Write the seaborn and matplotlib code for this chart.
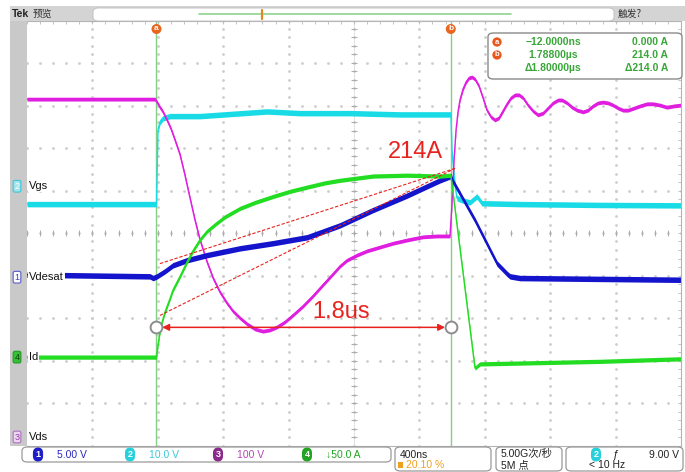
import numpy as np
import pandas as pd
import matplotlib
matplotlib.use("Agg")
import matplotlib.pyplot as plt
from matplotlib.patches import FancyBboxPatch, Rectangle
import seaborn as sns

sns.set_style("white")
plt.rcParams["font.family"] = ["Liberation Sans", "Noto Sans CJK SC", "DejaVu Sans"]
CJK = ["Noto Sans CJK SC", "DejaVu Sans"]
NARROW = ["Liberation Sans Narrow", "Liberation Sans", "Noto Sans CJK SC", "DejaVu Sans"]

# ---------------- acquisition settings ----------------
US_PER_DIV = 0.4            # 400 ns/div
H_DIVS, V_DIVS = 10, 10
TRIG_POS = 0.2010           # 20.10 %
T_LEFT = -TRIG_POS * H_DIVS * US_PER_DIV
T_RIGHT = T_LEFT + H_DIVS * US_PER_DIV

# channel scale (units/div) and ground-marker position (div)
ch_scale = {"Vdesat": 5.0, "Vgs": 10.0, "Vds": 100.0, "Id": 50.0}
ch_pos = {"Vdesat": -1.04, "Vgs": 1.10, "Vds": -4.80, "Id": -2.92}
ch_color = {"Vgs": "#19dbe6", "Vds": "#e01ee0", "Vdesat": "#1414cc", "Id": "#22dd22"}
ch_band = {"Vgs": 0.065, "Vds": 0.045, "Vdesat": 0.065, "Id": 0.05}

# cursors
cursor_a_us = -0.012
cursor_b_us = 1.788
cursor_a_amp = 0.0
cursor_b_amp = 214.0

# ---------------- waveforms (time in µs) ----------------
vgs_t = [-0.804, -0.012, -0.003, 0.009, 0.028, 0.071, 0.254, 0.664, 0.866, 1.172,
         1.477, 1.789, 1.795, 1.814, 1.826, 1.857, 1.905, 1.948, 1.979, 2.211, 2.700, 3.196]
vgs_v = [-4.2, -4.2, 13.2, 15.1, 16.0, 16.5, 16.5, 17.6, 17.2, 17.2,
         16.9, 16.9, 8.5, 0.2, -2.8, -3.3, -3.8, -2.4, -4.0, -4.2, -4.4, -4.5]

vdesat_t = [-0.804, -0.052, -0.033, -0.009, 0.040, 0.089, 0.175, 0.297, 0.499, 0.701,
            0.909, 1.110, 1.312, 1.520, 1.722, 1.789, 1.801, 1.936, 2.071, 2.107,
            2.132, 2.150, 2.211, 3.196]
vdesat_v = [0.3, 0.1, -0.1, 0.1, 0.7, 1.4, 2.0, 2.6, 3.4, 4.0,
            4.7, 6.1, 7.9, 9.6, 11.4, 11.9, 11.3, 6.7, 1.6, 0.9,
            0.4, 0.1, -0.1, -0.3]

id_t = [-0.804, -0.012, -0.003, 0.009, 0.022, 0.040, 0.071, 0.089, 0.132, 0.175,
        0.211, 0.254, 0.297, 0.346, 0.407, 0.499, 0.591, 0.701, 0.804, 0.909,
        1.019, 1.110, 1.312, 1.520, 1.722, 1.788, 1.936, 1.967, 2.211, 2.700,
        3.196]
id_v = [0, 0, 14, 29, 41, 53, 69, 79, 95, 112,
        125, 138, 148, 156, 165, 175, 182, 189, 195, 200,
        205, 208, 213, 214, 213, 214, -13, -8, -7, -5,
        -2]

vds_t = [-0.804, -0.021, -0.009, 0.009, 0.028, 0.052, 0.077, 0.101, 0.132, 0.162,
         0.193, 0.223, 0.254, 0.297, 0.334, 0.376, 0.419, 0.456, 0.499, 0.542,
         0.591, 0.639, 0.682, 0.725, 0.774, 0.823, 0.884, 0.945, 1.006, 1.068,
         1.110, 1.153, 1.214, 1.276, 1.355, 1.435, 1.526, 1.618, 1.704, 1.783,
         1.795, 1.808, 1.820, 1.832, 1.844, 1.863, 1.881, 1.899, 1.918, 1.936,
         1.960, 1.985, 2.009, 2.034, 2.058, 2.083, 2.107, 2.132, 2.156, 2.181,
         2.205, 2.230, 2.260, 2.291, 2.321, 2.352, 2.383, 2.413, 2.444, 2.468,
         2.499, 2.529, 2.560, 2.597, 2.627, 2.658, 2.688, 2.719, 2.750, 2.780,
         2.811, 2.841, 2.872, 2.909, 2.945, 2.988, 3.025, 3.067, 3.110, 3.153,
         3.196]
vds_v = [795, 795, 788, 776, 765, 746, 725, 699, 664, 616,
         562, 511, 464, 412, 374, 341, 315, 296, 280, 266,
         254, 249, 252, 259, 271, 287, 308, 332, 358, 384,
         402, 416, 428, 438, 447, 456, 464, 471, 473, 473,
         546, 652, 722, 765, 793, 819, 835, 845, 847, 842,
         826, 798, 769, 753, 746, 751, 767, 784, 798, 805,
         805, 798, 781, 767, 758, 762, 774, 786, 793, 793,
         786, 776, 769, 765, 769, 779, 786, 788, 786, 781,
         774, 769, 769, 774, 779, 784, 784, 781, 776, 779,
         781]

frames = []
for name, t, v in [("Vgs", vgs_t, vgs_v), ("Vds", vds_t, vds_v),
                   ("Vdesat", vdesat_t, vdesat_v), ("Id", id_t, id_v)]:
    d = pd.DataFrame({"t": t, "value": v})
    d["channel"] = name
    d["div"] = ch_pos[name] + d["value"] / ch_scale[name]
    frames.append(d)
waves = pd.concat(frames, ignore_index=True)

# ---------------- figure / graticule ----------------
W, H = 685, 472
fig = plt.figure(figsize=(W / 100, H / 100), dpi=100)
fig.patch.set_facecolor("white")

def fx(x):
    return x / W

def fy(y):
    return 1 - y / H

GX0, GX1, GY0, GY1 = 27, 681, 20.5, 445.5
PX_PER_VDIV = (GY1 - GY0) / V_DIVS
Y_CENTER = (GY0 + GY1) / 2
ax = fig.add_axes([fx(GX0), fy(GY1), (GX1 - GX0) / W, (GY1 - GY0) / H])
ax.set_xlim(T_LEFT, T_RIGHT)
ax.set_ylim(-V_DIVS / 2, V_DIVS / 2)
ax.set_facecolor("white")
for s in ax.spines.values():
    s.set_color("#b4b4b4")
    s.set_linewidth(0.8)
ax.spines["left"].set_visible(False)

major_x = T_LEFT + US_PER_DIV * np.arange(0, H_DIVS + 1)
major_y = np.arange(-V_DIVS / 2, V_DIVS / 2 + 1)
minor_x = T_LEFT + US_PER_DIV / 5 * np.arange(0, H_DIVS * 5 + 1)
minor_y = -V_DIVS / 2 + 0.2 * np.arange(0, V_DIVS * 5 + 1)

ax.set_xticks(minor_x)
ax.set_yticks(minor_y)
ax.tick_params(direction="in", length=2.5, width=0.6, color="#b8b8b8",
               top=True, right=True, labelbottom=False, labelleft=False)

dot = dict(ls="none", marker="o", ms=1.0, color="#cdcdcd", zorder=0.5)
for xv in major_x[1:-1]:
    ax.plot(np.full_like(minor_y, xv), minor_y, **dot)
for yv in major_y[1:-1]:
    ax.plot(minor_x, np.full_like(minor_x, yv), **dot)
t_center = T_LEFT + US_PER_DIV * H_DIVS / 2
ax.plot(minor_x, np.zeros_like(minor_x), ls="none", marker="|", ms=4,
        mew=0.7, color="#ababab", zorder=0.6)
ax.plot(np.full_like(minor_y, t_center), minor_y, ls="none", marker="_", ms=4,
        mew=0.7, color="#ababab", zorder=0.6)
ax.plot([t_center, t_center], [-5, 5], color="#d4d4d4", lw=0.5, zorder=0.4)

# cursor lines
for tc in (cursor_a_us, cursor_b_us):
    ax.axvline(tc, color="#84d084", lw=1.0, zorder=1)

# traces
for name in ["Vgs", "Vds", "Vdesat", "Id"]:
    d = waves[waves["channel"] == name]
    ax.fill_between(d["t"], d["div"] - ch_band[name], d["div"] + ch_band[name],
                    color=ch_color[name], lw=0, zorder=2)
    sns.lineplot(data=d, x="t", y="div", color=ch_color[name], lw=1.0,
                 estimator=None, sort=False, legend=False, ax=ax, zorder=2)
ax.set_xlabel("")
ax.set_ylabel("")

# annotations on Id channel
def id_div(a):
    return ch_pos["Id"] + a / ch_scale["Id"]

red = "#e8231e"
dash_start_t = 0.009
dash_end_t = 1.814
for a0 in (49, 110):
    ax.plot([dash_start_t, dash_end_t], [id_div(a0), id_div(222)], color=red,
            lw=0.8, ls=(0, (3, 1.6)), zorder=3)
arrow_y = id_div(35)
ax.annotate("", xy=(cursor_b_us - 0.035, arrow_y), xytext=(cursor_a_us + 0.035, arrow_y),
            arrowprops=dict(arrowstyle="<|-|>", color=red, lw=1.1,
                            mutation_scale=10, shrinkA=0, shrinkB=0), zorder=3)
ax.plot([cursor_a_us, cursor_b_us], [arrow_y, arrow_y], ls="none", marker="o", ms=8.5,
        mfc="white", mec="#8c8c8c", mew=1.4, zorder=4)
ax.text(1.116, -1.86, f"{cursor_b_us - cursor_a_us:.1f}us", color=red, fontsize=17,
        ha="center", va="center", zorder=4)
ax.text(1.569, 1.90, f"{cursor_b_amp:.0f}A", color=red, fontsize=17,
        ha="center", va="center", zorder=4)

# cursor tags at top of graticule
for tc, lab in ((cursor_a_us, "a"), (cursor_b_us, "b")):
    ax.text(tc, 4.80, lab, color="white", fontsize=6, fontweight="bold",
            ha="center", va="center", zorder=5,
            bbox=dict(boxstyle="circle,pad=0.18", fc="#e8661e", ec="none"))

# ---------------- screen chrome ----------------
def rect(x0, y0, x1, y1, **kw):
    fig.patches.append(Rectangle((fx(x0), fy(y1)), (x1 - x0) / W, (y1 - y0) / H,
                                 transform=fig.transFigure, **kw))

def rbox(x0, y0, x1, y1, **kw):
    fig.patches.append(FancyBboxPatch((fx(x0), fy(y1)), (x1 - x0) / W, (y1 - y0) / H,
                                      boxstyle="round,pad=0,rounding_size=0.008",
                                      transform=fig.transFigure, **kw))

def ftext(x, y, s, **kw):
    fig.text(fx(x), fy(y), s, **kw)

# left side strip and top bar
rect(10, 20.5, 27, 445.5, fc="#c9c9c9", ec="none")
rect(10, 6, 685, 21, fc="#d4d4d4", ec="none")
rbox(93, 8, 614, 21, fc="white", ec="#bcbcbc", lw=0.6)
ftext(12, 14, "Tek", fontsize=7.5, fontweight="bold", color="#222222", va="center")
ftext(33, 14, "预览", fontsize=7, color="#333333", va="center", family=CJK)
fig.lines.append(plt.Line2D([fx(199), fx(511)], [fy(14), fy(14)], color="#8fd48f",
                            lw=1.2, transform=fig.transFigure))
fig.lines.append(plt.Line2D([fx(262), fx(262)], [fy(10), fy(19)], color="#e08a1e",
                            lw=1.6, transform=fig.transFigure))
ftext(618, 14, "触发?", fontsize=7, color="#333333", va="center", family=CJK)

# cursor readout
rbox(488, 33, 682, 79, fc="white", ec="#8a8a8a", lw=1.0)
ro_green = "#3aa63a"
rows = [("a", f"\u2212{abs(cursor_a_us) * 1000:.4f}ns", f"{cursor_a_amp:.3f} A", 42),
        ("b", f"{cursor_b_us:.5f}µs", f"{cursor_b_amp:.1f} A", 55),
        (None, f"Δ{cursor_b_us - cursor_a_us:.5f}µs", f"Δ{cursor_b_amp - cursor_a_amp:.1f} A", 68)]
for tag, c1, c2, yy in rows:
    if tag:
        ftext(497, yy, tag, fontsize=5.5, fontweight="bold", color="white",
              ha="center", va="center",
              bbox=dict(boxstyle="circle,pad=0.15", fc="#e8581e", ec="none"))
    ftext(553, yy, c1, fontsize=7.5, fontweight="bold", color=ro_green,
          ha="center", va="center")
    ftext(668, yy, c2, fontsize=7.5, fontweight="bold", color=ro_green,
          ha="right", va="center")

# channel markers on the left
markers = [("Vgs", "2", "#9fe3ee", "#3cc6d6", "white"),
           ("Vdesat", "1", "white", "#5a5ad0", "#3c3cc0"),
           ("Id", "4", "#35c035", "#229922", "#114411"),
           ("Vds", "3", "#ecd6f0", "#b070c0", "#9040a0")]
for name, num, fc, ec, tc in markers:
    ypx = Y_CENTER - ch_pos[name] * PX_PER_VDIV
    ftext(17, ypx, num, fontsize=6.5, color=tc, ha="center", va="center",
          bbox=dict(boxstyle="round,pad=0.15,rounding_size=0.2", fc=fc, ec=ec, lw=0.8))
    ftext(29, ypx, name, fontsize=8, color="#111111", ha="left", va="center",
          bbox=dict(boxstyle="square,pad=0.1", fc="white", ec="none"))

# status bar
rbox(22, 447, 391, 462, fc="white", ec="#9a9a9a", lw=0.9)
rbox(395, 447, 491, 471, fc="white", ec="#9a9a9a", lw=0.9)
rbox(496, 447, 562, 471, fc="white", ec="#9a9a9a", lw=0.9)
rbox(566, 447, 683, 471, fc="white", ec="#9a9a9a", lw=0.9)

chan_bar = [("1", "#1e1ec8", f"{ch_scale['Vdesat']:.2f} V", "#2a2ac0", 38),
            ("2", "#28d0dc", f"{ch_scale['Vgs']:.1f} V", "#3cc8d6", 130),
            ("3", "#8a2a8a", f"{ch_scale['Vds']:.0f} V", "#b548b5", 218),
            ("4", "#22a522", f"\u2193{ch_scale['Id']:.1f} A", "#22a522", 307)]
for num, cfc, label, lc, xx in chan_bar:
    ftext(xx, 454.5, num, fontsize=6.5, color="white", fontweight="bold",
          ha="center", va="center",
          bbox=dict(boxstyle="round,pad=0.28,rounding_size=0.6", fc=cfc, ec="none"))
    ftext(xx + 19, 454.5, label, fontsize=7.5, color=lc, ha="left", va="center",
          family=NARROW)

ftext(400, 454.5, f"{US_PER_DIV * 1000:.0f}ns", fontsize=7.5, color="#222222",
      va="center", family=NARROW)
rect(398, 462, 403, 468, fc="#f0a020", ec="none")
ftext(406, 465.5, f"{TRIG_POS * 100:.2f} %", fontsize=7.5, color="#f0a020",
      va="center", family=NARROW)
ftext(501, 454.5, "5.00G次/秒", fontsize=7.5, color="#222222", va="center", family=NARROW)
ftext(501, 465.5, "5M 点", fontsize=7.5, color="#222222", va="center", family=NARROW)
ftext(596, 454.5, "2", fontsize=6.5, color="white", fontweight="bold", ha="center",
      va="center", bbox=dict(boxstyle="round,pad=0.28,rounding_size=0.6", fc="#28d0dc", ec="none"))
ftext(613, 454.5, "\u0192", fontsize=8, color="#222222", va="center", family=NARROW)
ftext(679, 454.5, "9.00 V", fontsize=7.5, color="#222222", ha="right", va="center",
      family=NARROW)
ftext(589, 465.5, "< 10 Hz", fontsize=7.5, color="#222222", va="center", family=NARROW)

fig.savefig("out.png", dpi=100, facecolor="white")
